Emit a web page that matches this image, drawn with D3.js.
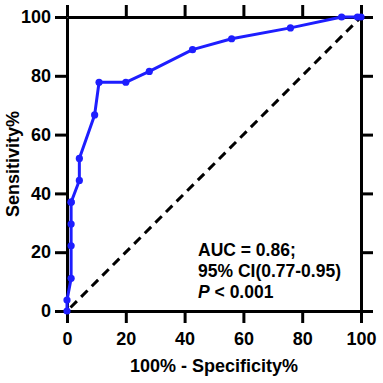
<!DOCTYPE html>
<html>
<head>
<meta charset="utf-8">
<script src="https://cdn.jsdelivr.net/npm/d3@7"></script>
<style>
  body { margin: 0; background: #fff; }
  text { font-family: Arial, "Liberation Sans", sans-serif; font-weight: bold; }
</style>
</head>
<body>
<div id="chart"></div>
<script>
var width = 383,
  height = 383;

// ROC points (100% - specificity, sensitivity)
var fpr = [0, 0, 1.4, 1.4, 1.4, 1.4, 1.4, 4.2, 4.2, 9.4, 10.9, 20, 28, 42.7, 56, 76, 93.4, 98.8, 100];
var tpr = [0, 3.7, 11.1, 22.2, 29.6, 37.0, 37.0, 44.4, 51.9, 66.7, 77.8, 77.8, 81.5, 88.9, 92.6, 96.3, 100, 100, 100];
var tickValues = [0, 20, 40, 60, 80, 100];
var statsLines = ["AUC = 0.86;", "95% CI(0.77-0.95)", "< 0.001"];

var margin = { left: 67, right: 22, top: 17, bottom: 72 };

var svg = d3.select("#chart")
  .append("svg")
  .attr("width", width)
  .attr("height", height);

var x = d3.scaleLinear().domain([0, 100]).range([margin.left, width - margin.right]);
var y = d3.scaleLinear().domain([0, 100]).range([height - margin.bottom, margin.top]);

// reference diagonal
svg.append("line")
  .attr("x1", x(0)).attr("y1", y(0))
  .attr("x2", x(100)).attr("y2", y(100))
  .attr("stroke", "#000")
  .attr("stroke-width", 3)
  .attr("stroke-dasharray", "9,6")
  .attr("stroke-dashoffset", -5);

// axes, ticks outward on all four sides
function styleAxis(g, labels) {
  g.select(".domain").attr("stroke", "#000").attr("stroke-width", 3);
  g.selectAll(".tick line").attr("stroke", "#000").attr("stroke-width", 3);
  g.selectAll(".tick text")
    .attr("fill", "#000")
    .style("font-size", "18px")
    .style("display", labels ? null : "none");
}

svg.append("g")
  .attr("transform", "translate(0," + y(0) + ")")
  .call(d3.axisBottom(x).tickValues(tickValues).tickSize(12).tickPadding(9).tickSizeOuter(0))
  .call(styleAxis, true);

svg.append("g")
  .attr("transform", "translate(" + x(0) + ",0)")
  .call(d3.axisLeft(y).tickValues(tickValues).tickSize(12).tickPadding(4).tickSizeOuter(0))
  .call(styleAxis, true);

svg.append("g")
  .attr("transform", "translate(0," + y(100) + ")")
  .call(d3.axisTop(x).tickValues(tickValues).tickSize(12).tickSizeOuter(0))
  .call(styleAxis, false);

svg.append("g")
  .attr("transform", "translate(" + x(100) + ",0)")
  .call(d3.axisRight(y).tickValues(tickValues).tickSize(12).tickSizeOuter(0))
  .call(styleAxis, false);

// ROC curve
var pts = fpr.map(function (d, i) { return [d, tpr[i]]; });
var blue = "rgb(30,30,255)";

svg.append("path")
  .datum(pts)
  .attr("fill", "none")
  .attr("stroke", blue)
  .attr("stroke-width", 3)
  .attr("stroke-linejoin", "round")
  .attr("d", d3.line().x(function (d) { return x(d[0]); }).y(function (d) { return y(d[1]); }));

svg.append("g")
  .selectAll("circle")
  .data(pts)
  .enter().append("circle")
  .attr("cx", function (d) { return x(d[0]); })
  .attr("cy", function (d) { return y(d[1]); })
  .attr("r", 3.6)
  .attr("fill", blue);

// axis titles
svg.append("text")
  .attr("x", (x(0) + x(100)) / 2)
  .attr("y", 372)
  .attr("text-anchor", "middle")
  .style("font-size", "18px")
  .text("100% - Specificity%");

svg.append("text")
  .attr("transform", "translate(19," + ((y(0) + y(100)) / 2) + ") rotate(-90)")
  .attr("text-anchor", "middle")
  .style("font-size", "18px")
  .text("Sensitivity%");

// stats annotation
var stats = svg.append("g").style("font-size", "17.5px");
stats.append("text").attr("x", 198).attr("y", 256).text(statsLines[0]);
stats.append("text").attr("x", 198).attr("y", 277).text(statsLines[1]);
var p = stats.append("text").attr("x", 198).attr("y", 298);
p.append("tspan").style("font-style", "italic").text("P");
p.append("tspan").text(" " + statsLines[2]);
</script>
</body>
</html>
